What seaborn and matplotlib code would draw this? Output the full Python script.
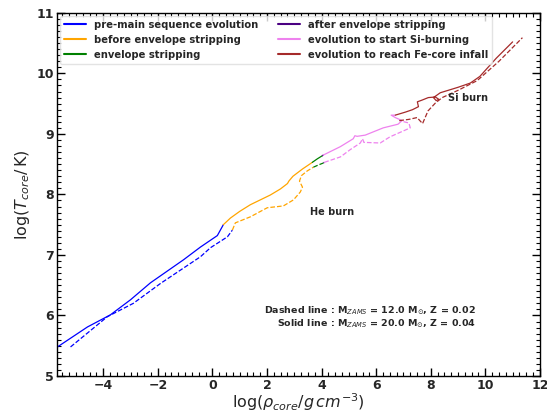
import numpy as np
import pandas as pd
import matplotlib
matplotlib.use("Agg")
import matplotlib.pyplot as plt
from matplotlib.lines import Line2D
from matplotlib.ticker import MultipleLocator
import seaborn as sns

# ---- data: solid line (M_ZAMS = 20, Z = 0.04) ----
s_pms_x = [-5.68, -4.58, -3.74, -3.0, -2.27, -1.06, -0.44, 0.18, 0.4]
s_pms_y = [5.48, 5.81, 6.01, 6.26, 6.54, 6.92, 7.13, 7.32, 7.50]
s_pre_x = [0.4, 0.66, 1.0, 1.39, 2.12, 2.49, 2.75, 2.8, 2.95, 3.3, 3.66]
s_pre_y = [7.50, 7.61, 7.72, 7.83, 7.99, 8.09, 8.18, 8.22, 8.30, 8.42, 8.53]
s_strip_x = [3.66, 3.85, 4.03]
s_strip_y = [8.53, 8.59, 8.64]
s_after_x = [4.03, 4.06]
s_after_y = [8.64, 8.65]
s_si_x = [4.06, 4.69, 5.16, 5.22, 5.3, 5.6, 6.26, 6.8, 6.95, 6.7, 6.55, 6.7]
s_si_y = [8.65, 8.79, 8.92, 8.97, 8.96, 8.98, 9.10, 9.16, 9.22, 9.27, 9.31, 9.31]
s_fe_x = [6.7, 7.07, 7.33, 7.55, 7.51, 7.69, 7.91, 8.17, 8.3, 8.2, 8.1, 8.35, 9.0, 9.45, 9.8, 10.4, 11.0]
s_fe_y = [9.31, 9.36, 9.40, 9.45, 9.53, 9.56, 9.60, 9.61, 9.57, 9.55, 9.60, 9.68, 9.77, 9.84, 9.95, 10.25, 10.52]

# ---- data: dashed line (M_ZAMS = 12, Z = 0.02) ----
d_pms_x = [-5.2, -3.85, -2.9, -1.9, -0.44, -0.07, 0.55, 0.73]
d_pms_y = [5.48, 5.98, 6.20, 6.53, 6.97, 7.12, 7.30, 7.41]
d_pre_x = [0.73, 0.84, 1.39, 2.01, 2.6, 2.97, 3.22, 3.3, 3.19, 3.26, 3.48, 3.7]
d_pre_y = [7.41, 7.53, 7.63, 7.78, 7.81, 7.91, 8.04, 8.12, 8.22, 8.31, 8.39, 8.45]
d_strip_x = [3.7, 3.9, 4.07]
d_strip_y = [8.45, 8.49, 8.52]
d_after_x = [4.07, 4.1]
d_after_y = [8.52, 8.53]
d_si_x = [4.1, 4.69, 5.05, 5.42, 5.5, 5.55, 6.15, 6.5, 7.0, 7.25, 7.2, 6.85]
d_si_y = [8.53, 8.62, 8.74, 8.85, 8.92, 8.86, 8.85, 8.95, 9.05, 9.10, 9.18, 9.22]
d_fe_x = [6.85, 7.2, 7.5, 7.7, 7.9, 8.17, 8.42, 9.0, 9.7, 10.5, 11.36]
d_fe_y = [9.22, 9.24, 9.27, 9.17, 9.38, 9.51, 9.60, 9.72, 9.88, 10.20, 10.59]

phases = ["pre-main sequence evolution", "before envelope stripping",
          "envelope stripping", "after envelope stripping",
          "evolution to start Si-burning", "evolution to reach Fe-core infall"]
colors = ["blue", "orange", "green", "indigo", "violet", "brown"]

solid = [(s_pms_x, s_pms_y), (s_pre_x, s_pre_y), (s_strip_x, s_strip_y),
         (s_after_x, s_after_y), (s_si_x, s_si_y), (s_fe_x, s_fe_y)]
dashed = [(d_pms_x, d_pms_y), (d_pre_x, d_pre_y), (d_strip_x, d_strip_y),
          (d_after_x, d_after_y), (d_si_x, d_si_y), (d_fe_x, d_fe_y)]

sns.set_style("white")
fig = plt.figure(figsize=(5.47, 4.15), dpi=100)
ax = fig.add_axes([0.104, 0.094, 0.883, 0.875])

for (segs, ls) in [(solid, "-"), (dashed, "--")]:
    for (xs, ys), c, ph in zip(segs, colors, phases):
        df = pd.DataFrame({"x": xs, "y": ys})
        sns.lineplot(data=df, x="x", y="y", sort=False, estimator=None,
                     color=c, linestyle=ls, lw=0.9, ax=ax, legend=False)

ax.set_xlim(-5.7, 12)
ax.set_ylim(5, 11)
ax.xaxis.set_major_locator(MultipleLocator(2))
ax.xaxis.set_minor_locator(MultipleLocator(0.25))
ax.yaxis.set_major_locator(MultipleLocator(1))
ax.yaxis.set_minor_locator(MultipleLocator(0.1))
ax.tick_params(which="both", direction="in", top=True, right=True,
               bottom=True, left=True, color="black")
ax.tick_params(which="major", length=6, width=1, labelsize=9, pad=2)
ax.tick_params(which="minor", length=3, width=0.8)
for lab in ax.get_xticklabels() + ax.get_yticklabels():
    lab.set_fontweight("bold")
for sp in ax.spines.values():
    sp.set_color("black")
    sp.set_linewidth(1)

ax.set_xlabel(r"$\log(\rho_{core}/g\,cm^{-3})$", fontsize=11.5, labelpad=0)
ax.set_ylabel(r"$\log(T_{core}/\,\mathrm{K})$", fontsize=11.5, labelpad=3)

handles = [Line2D([0], [0], color=c, lw=1.5) for c in colors]
leg = ax.legend(handles, phases, loc="upper left", ncol=2,
                prop={"weight": "bold", "size": 7.2}, frameon=True,
                handlelength=2.2, columnspacing=2.0, borderaxespad=0.3,
                labelspacing=0.5)
leg.get_frame().set_edgecolor("#dddddd")

ax.text(4.4, 7.71, "He burn", fontsize=7, fontweight="bold", ha="center", va="center")
ax.text(9.35, 9.6, "Si burn", fontsize=7, fontweight="bold", ha="center", va="center")
ax.text(9.67, 6.07, r"Dashed line : M$_{ZAMS}$ = 12.0 M$_{\odot}$, Z = 0.02",
        fontsize=6.8, fontweight="bold", ha="right", va="center")
ax.text(9.67, 5.86, r"Solid line : M$_{ZAMS}$ = 20.0 M$_{\odot}$, Z = 0.04",
        fontsize=6.8, fontweight="bold", ha="right", va="center")

fig.savefig("out.png", dpi=100)
